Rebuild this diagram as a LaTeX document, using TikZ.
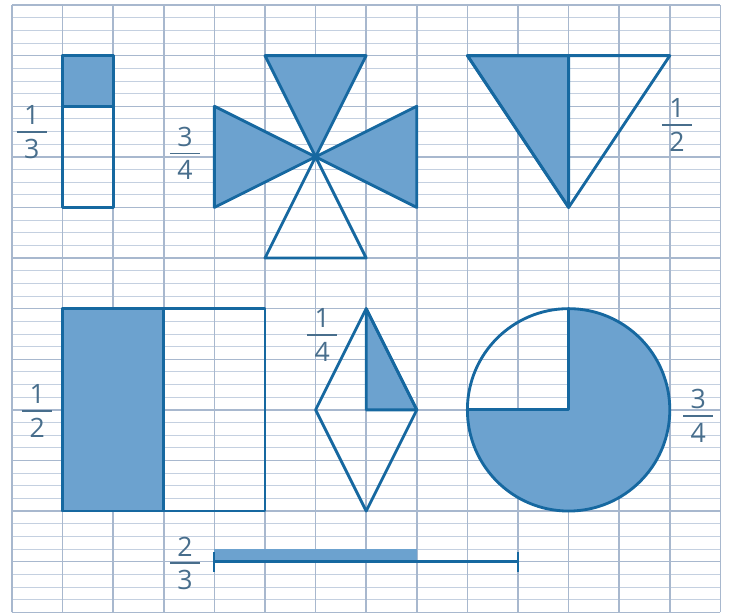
\documentclass[tikz,border=0pt]{standalone}
\usepackage{fontspec}
\setmainfont{Open Sans}
\definecolor{gridlight}{RGB}{196,208,224}
\definecolor{griddark}{RGB}{168,184,206}
\definecolor{edgeblue}{RGB}{22,104,160}
\definecolor{fillblue}{RGB}{108,162,207}
\definecolor{labelblue}{RGB}{72,110,140}
\newcommand\fr[2]{\vbox{\hbox to 17pt{\hss#1\hss}\kern3.5pt\hrule height 0.9pt\kern3.5pt\hbox to 17pt{\hss#2\hss}}}

\begin{document}
\begin{tikzpicture}[
    gridsub/.style={draw=gridlight,line width=0.5pt},
    gridmain/.style={draw=griddark,line width=0.8pt},
    part/.style={draw=edgeblue,line width=1.6pt,line join=round},
    shaded/.style={part,fill=fillblue},
    fraclabel/.style={text=labelblue,inner sep=0pt,font=\fontsize{15}{17}\selectfont},
    ]
    \useasboundingbox (-0.237,0) rectangle (14.19,12.1);
    % squared paper
    \foreach \k in {0,...,48}
        \draw[gridsub] (0,\k/4) -- (14,\k/4);
    \foreach \k in {0,...,12}
        \draw[gridmain] (0,\k) -- (14,\k);
    \foreach \k in {0,...,14}
        \draw[gridmain] (\k,0) -- (\k,12);

    % one third
    \draw[part] (1,8) rectangle (2,11);
    \draw[shaded] (1,10) rectangle (2,11);
    \node[fraclabel] (f13) at (0.39,9.49) {\fr{1}{3}};

    % three quarters, bow ties
    \coordinate (c) at (6,9);
    \draw[shaded] (5,11) -- (7,11) -- (c) -- cycle;
    \draw[shaded] (4,10) -- (4,8) -- (c) -- cycle;
    \draw[shaded] (8,10) -- (8,8) -- (c) -- cycle;
    \draw[part] (5,7) -- (7,7) -- (c) -- cycle;
    \node[fraclabel] (f34a) at (3.42,9.07) {\fr{3}{4}};

    % one half, triangle
    \draw[shaded] (9,11) -- (11,11) -- (11,8) -- cycle;
    \draw[part] (9,11) -- (13,11) -- (11,8) -- cycle;
    \node[fraclabel] (f12a) at (13.14,9.63) {\fr{1}{2}};

    % one half, rectangle
    \draw[shaded] (1,2) rectangle (3,6);
    \draw[part] (1,2) rectangle (5,6);
    \node[fraclabel] (f12b) at (0.5,3.98) {\fr{1}{2}};

    % one quarter, rhombus
    \draw[shaded] (7,6) -- (7,4) -- (8,4) -- cycle;
    \draw[part] (7,6) -- (8,4) -- (7,2) -- (6,4) -- cycle;
    \node[fraclabel] (f14) at (6.13,5.48) {\fr{1}{4}};

    % three quarters, disc
    \fill[fillblue] (11,4) -- (11,6) arc[start angle=90,end angle=-180,radius=2] -- cycle;
    \draw[part] (11,4) circle[radius=2];
    \draw[part] (11,6) -- (11,4) -- (9,4);
    \node[fraclabel] (f34b) at (13.56,3.88) {\fr{3}{4}};

    % two thirds, segment
    \fill[fillblue] (4,1) rectangle (8,1.25);
    \draw[part] (4,1) -- (10,1);
    \draw[part,line width=1.2pt] (4,0.8) -- (4,1.2);
    \draw[part,line width=1.2pt] (10,0.8) -- (10,1.2);
    \node[fraclabel] (f23) at (3.42,0.97) {\fr{2}{3}};
\end{tikzpicture}
\end{document}
